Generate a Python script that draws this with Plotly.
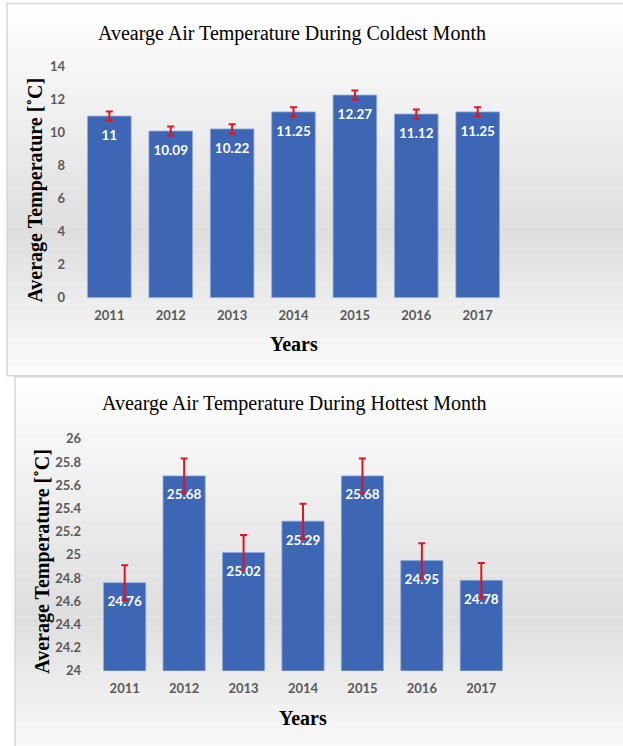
import plotly.graph_objects as go
from plotly.subplots import make_subplots

years = ["2011", "2012", "2013", "2014", "2015", "2016", "2017"]
cold_values = [11, 10.09, 10.22, 11.25, 12.27, 11.12, 11.25]
cold_errors = [0.28, 0.28, 0.28, 0.28, 0.28, 0.28, 0.28]
hot_values = [24.76, 25.68, 25.02, 25.29, 25.68, 24.95, 24.78]
hot_errors = [0.15, 0.15, 0.15, 0.15, 0.15, 0.15, 0.15]
cold_ticks = [0, 2, 4, 6, 8, 10, 12, 14]
hot_ticks = [24, 24.2, 24.4, 24.6, 24.8, 25, 25.2, 25.4, 25.6, 25.8, 26]

W, H = 623, 746
BAR = "#3D66B5"
ERR = "#E0141E"
TICKC = "#595959"

fig = make_subplots(rows=2, cols=1)

for vals, errs, row in [(cold_values, cold_errors, 1), (hot_values, hot_errors, 2)]:
    fig.add_trace(go.Bar(
        x=years, y=vals,
        marker=dict(color=BAR, line=dict(color="#8FAADC", width=0.8)),
        error_y=dict(type="data", array=errs, color=ERR, thickness=2, width=3.5),
        showlegend=False, hoverinfo="skip",
    ), row=row, col=1)
    fig.add_trace(go.Scatter(
        x=years, y=vals, mode="markers+text",
        marker=dict(size=20, opacity=0),
        text=[f"{v:g}" for v in vals], textposition="bottom center",
        textfont=dict(family="Lato", size=13.5, color="white", weight="bold"),
        showlegend=False, hoverinfo="skip",
    ), row=row, col=1)

def px(x):
    return x / W

# compensation for the observed vertical mapping of the rendered picture
def py(y):
    yd = (y - 7.5) / 0.978
    return 1 - yd / H

ax_font = dict(family="Lato", size=13, color=TICKC, weight="bold")
fig.update_layout(
    width=W, height=H, margin=dict(l=0, r=0, t=0, b=0),
    paper_bgcolor="white", plot_bgcolor="rgba(0,0,0,0)",
    bargap=0.29,
    xaxis=dict(domain=[px(75), px(512)], anchor="y", showgrid=False, showline=False,
               ticks="", tickfont=ax_font, ticklabelstandoff=8),
    yaxis=dict(domain=[py(297), py(66)], anchor="x", range=[0, 14], tickvals=cold_ticks,
               showgrid=False, zeroline=False, showline=False, ticks="", tickfont=ax_font,
               ticklabelstandoff=9),
    xaxis2=dict(domain=[px(91), px(515)], anchor="y2", showgrid=False, showline=False,
                ticks="", tickfont=ax_font, ticklabelstandoff=8),
    yaxis2=dict(domain=[py(670), py(438)], anchor="x2", range=[24, 26], tickvals=hot_ticks,
                ticktext=[f"{t:g}" for t in hot_ticks],
                showgrid=False, zeroline=False, showline=False, ticks="", tickfont=ax_font,
                ticklabelstandoff=9),
)

# background gradient bands for each panel
shapes = []
def panel_bg(x0, y0, y1, peak_frac, peak_gray):
    n = 40
    for i in range(n):
        ya = y0 + (y1 - y0) * i / n
        yb = y0 + (y1 - y0) * (i + 1) / n
        f = (i + 0.5) / n
        if f < peak_frac:
            t = f / peak_frac
            g = 255 - (255 - peak_gray) * t
        else:
            t = (f - peak_frac) / (1 - peak_frac)
            g = peak_gray + (252 - peak_gray) * t
        g = int(round(g))
        shapes.append(dict(type="rect", xref="paper", yref="paper", x0=px(x0), x1=1.0,
                           y0=py(yb), y1=py(ya) + 0.0005, fillcolor=f"rgb({g},{g},{g})",
                           line=dict(width=0), layer="below"))

panel_bg(7, 3, 375, 0.62, 222)
panel_bg(15, 376, 760, 0.62, 222)
shapes.append(dict(type="rect", xref="paper", yref="paper", x0=px(7), x1=1.01, y0=py(375), y1=py(3),
                   line=dict(color="#d6d6d6", width=1.5), fillcolor="rgba(0,0,0,0)", layer="below"))
shapes.append(dict(type="rect", xref="paper", yref="paper", x0=px(15), x1=1.01, y0=-0.05, y1=py(376),
                   line=dict(color="#d6d6d6", width=1.5), fillcolor="rgba(0,0,0,0)", layer="below"))
fig.update_layout(shapes=shapes)

title_font = dict(family="Liberation Serif", size=20, color="black")
axt_font = dict(family="Liberation Serif", size=20, color="black", weight="bold")
ann = [
    dict(text="Avearge Air Temperature During Coldest Month", x=px(292), y=py(33),
         font=title_font),
    dict(text="Avearge Air Temperature During Hottest Month", x=px(294), y=py(403),
         font=title_font),
    dict(text="Years", x=px(294), y=py(343), font=axt_font),
    dict(text="Years", x=px(303), y=py(717), font=axt_font),
    dict(text="Average Temperature [˚C]", x=px(36), y=py(190), textangle=-90, font=axt_font),
    dict(text="Average Temperature [˚C]", x=px(43), y=py(561), textangle=-90, font=axt_font),
]
for a in ann:
    a.update(xref="paper", yref="paper", showarrow=False, xanchor="center", yanchor="middle")
fig.update_layout(annotations=ann)

fig.write_html("out.html", config={"displayModeBar": False},
               post_script="document.body.style.margin='0';document.body.style.overflow='hidden';")
